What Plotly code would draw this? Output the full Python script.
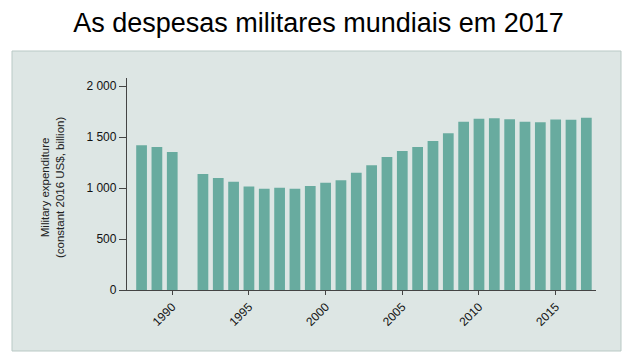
import plotly.graph_objects as go

years = [1988, 1989, 1990, 1992, 1993, 1994, 1995, 1996, 1997, 1998, 1999,
         2000, 2001, 2002, 2003, 2004, 2005, 2006, 2007, 2008, 2009,
         2010, 2011, 2012, 2013, 2014, 2015, 2016, 2017]
spending = [1421, 1402, 1353, 1137, 1098, 1062, 1016, 993, 1003, 993, 1020,
            1052, 1078, 1150, 1225, 1304, 1363, 1402, 1461, 1539, 1650,
            1680, 1686, 1676, 1650, 1647, 1673, 1670, 1690]
ytick_vals = [0, 500, 1000, 1500, 2000]
ytick_text = ["0", "500", "1 000", "1 500", "2 000"]
xtick_vals = [1990, 1995, 2000, 2005, 2010, 2015]

title_text = "As despesas militares mundiais em 2017"
ytitle_text = "Military expenditure<br>(constant 2016 US$, billion)"

W, H = 637, 359
L, R, T, B = 127, 41, 78, 69
pw, ph = W - L - R, H - T - B

def px_x(p):
    return (p - L) / pw

def px_y(p):
    return (H - B - p) / ph

fig = go.Figure()
fig.add_trace(go.Bar(x=years, y=spending, width=0.7,
                     marker=dict(color="#68ab9f", line=dict(width=0))))

fig.add_shape(type="rect", xref="paper", yref="paper",
              x0=px_x(12), x1=px_x(621), y0=px_y(351), y1=px_y(51),
              fillcolor="#dde6e4", line=dict(color="#b9c9c5", width=1),
              layer="below")

fig.add_annotation(text=ytitle_text, xref="paper", yref="paper",
                   x=px_x(52), y=px_y(188), textangle=-90, showarrow=False,
                   font=dict(family="Liberation Sans, Arial", size=11.5, color="#222"),
                   xanchor="center", yanchor="middle")

fig.update_layout(
    width=W, height=H,
    margin=dict(l=L, r=R, t=T, b=B, pad=0),
    paper_bgcolor="white", plot_bgcolor="rgba(0,0,0,0)",
    showlegend=False,
    title=dict(text=title_text, x=0.5, xanchor="center", xref="container",
               y=1 - 23 / H, yanchor="middle", yref="container",
               font=dict(family="Liberation Sans, Arial", size=27, color="black")),
    xaxis=dict(range=[1987.05, 2017.63], tickvals=xtick_vals, tickangle=-45,
               ticks="outside", ticklen=4, tickcolor="#444", showgrid=False,
               zeroline=False, showline=True, linecolor="#444", linewidth=1.3,
               tickfont=dict(family="Liberation Sans, Arial", size=12, color="#111")),
    yaxis=dict(range=[0, 2080], tickvals=ytick_vals, ticktext=ytick_text,
               ticks="outside", ticklen=7, tickcolor="#444", showgrid=False,
               zeroline=False, showline=True, linecolor="#444", linewidth=1.3,
               tickfont=dict(family="Liberation Sans, Arial", size=12, color="#111")),
)

fig.write_html("out.html", config={"displayModeBar": False},
               post_script="document.body.style.margin='0';document.body.style.overflow='hidden';")
